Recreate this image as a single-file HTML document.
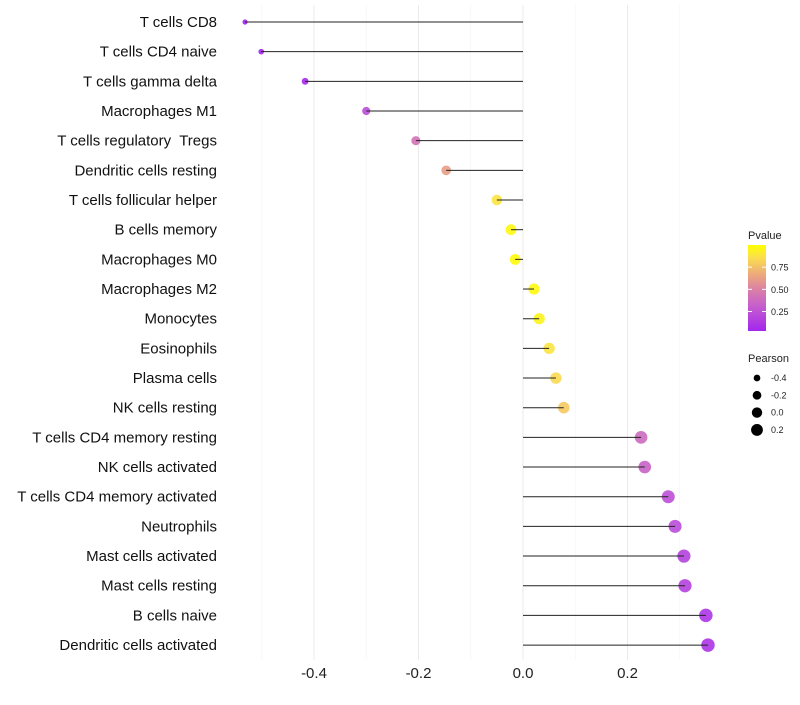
<!DOCTYPE html>
<html><head><meta charset="utf-8"><style>
body{margin:0;background:#fff;font-family:"Liberation Sans",sans-serif}
text{white-space:pre}
</style></head><body>
<svg id="chart" width="800" height="700" xmlns="http://www.w3.org/2000/svg" font-family="Liberation Sans, sans-serif"></svg>
<script>
const categories=["T cells CD8","T cells CD4 naive","T cells gamma delta","Macrophages M1","T cells regulatory  Tregs","Dendritic cells resting","T cells follicular helper","B cells memory","Macrophages M0","Macrophages M2","Monocytes","Eosinophils","Plasma cells","NK cells resting","T cells CD4 memory resting","NK cells activated","T cells CD4 memory activated","Neutrophils","Mast cells activated","Mast cells resting","B cells naive","Dendritic cells activated"];
const pearson=[-0.532,-0.501,-0.417,-0.300,-0.205,-0.147,-0.050,-0.023,-0.015,0.021,0.031,0.050,0.063,0.078,0.226,0.233,0.278,0.291,0.308,0.310,0.350,0.354];
const pvalue=[0.01,0.02,0.05,0.22,0.42,0.62,0.88,0.97,0.98,0.97,0.95,0.88,0.84,0.78,0.38,0.34,0.24,0.22,0.17,0.17,0.10,0.10];
const xTicks=[-0.4,-0.2,0.0,0.2];
const xTickLabels=["-0.4","-0.2","0.0","0.2"];
const pLegend=[0.25,0.5,0.75];
const sizeLegend=[-0.4,-0.2,0.0,0.2];

const svg=document.getElementById('chart');
const NS='http://www.w3.org/2000/svg';
function mk(t,a,p){const e=document.createElementNS(NS,t);for(const k in a)e.setAttribute(k,a[k]);(p||svg).appendChild(e);return e;}
const x=v=>523+v*522.5;
const y=i=>22+i*29.67;
const r=v=>Math.sqrt(Math.max(3,30+44*v));
const stops=[[0,[160,32,240]],[0.3,[196,92,208]],[0.5,[218,128,165]],[0.65,[235,165,128]],[0.85,[250,220,80]],[1,[255,255,0]]];
function col(p){
  for(let k=1;k<stops.length;k++){
    if(p<=stops[k][0]){const [p0,a]=stops[k-1],[p1,b]=stops[k];const t=(p-p0)/(p1-p0);
      return 'rgb('+a.map((c,i)=>Math.round(c+(b[i]-c)*t)).join(',')+')';}
  }
  return 'rgb(255,255,0)';
}

const grid=mk('g',{});


for(let v=-0.5;v<=0.36;v+=0.1){
  const major=Math.abs(Math.round(v*10)%2)==0;
  const l=mk('line',{x1:x(v),x2:x(v),y1:5,y2:660,stroke:major?'#ebebeb':'#f4f4f4','stroke-width':major?1:0.6},grid);
  
  
}
xTicks.forEach((v,i)=>{
  const t=mk('text',{x:x(v),y:678,'text-anchor':'middle','font-size':15,fill:'#222'});
  t.textContent=xTickLabels[i];
  
  
});
categories.forEach((c,i)=>{
  const t=mk('text',{x:217,y:y(i)+5,'text-anchor':'end','font-size':15,fill:'#111'});
  t.textContent=c;
  
  
  const pt=mk('circle',{cx:x(pearson[i]),cy:y(i),r:r(pearson[i]),fill:col(pvalue[i]),'fill-opacity':0.9});
  
  
  const s=mk('line',{x1:x(0),x2:x(pearson[i]),y1:y(i),y2:y(i),stroke:'#222','stroke-width':1});
  
  
});
const defs=mk('defs',{});
const lg=mk('linearGradient',{id:'pg',x1:0,y1:1,x2:0,y2:0},defs);
for(let k=0;k<=20;k++)mk('stop',{offset:k/20,'stop-color':col(0.03+0.97*k/20)},lg);
const lt=mk('text',{x:748,y:239,'font-size':11,fill:'#222'});lt.textContent='Pvalue';


const bar=mk('rect',{x:748,y:245,width:18,height:86,fill:'url(#pg)'});


const py=p=>331-(p-0.03)/0.97*86;
pLegend.forEach(p=>{
  mk('line',{x1:748,x2:752,y1:py(p),y2:py(p),stroke:'#fff'});mk('line',{x1:762,x2:766,y1:py(p),y2:py(p),stroke:'#fff'});
  const t=mk('text',{x:771,y:py(p)+3.5,'font-size':9,fill:'#222'});t.textContent=p.toFixed(2);
  
  
});
const st=mk('text',{x:748,y:362,'font-size':11,fill:'#222'});st.textContent='Pearson';


sizeLegend.forEach((v,i)=>{
  const c=mk('circle',{cx:757,cy:378+i*17.3,r:r(v)*0.95,fill:'#000'});
  
  
  const t=mk('text',{x:771,y:381+i*17.3,'font-size':9,fill:'#222'});t.textContent=v.toFixed(1);
  
  
});
</script>
</body></html>
